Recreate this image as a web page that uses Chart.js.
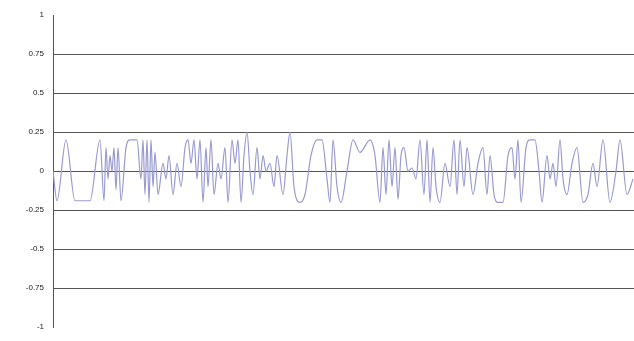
<!DOCTYPE html>
<html>
<head>
<meta charset="utf-8">
<script src="https://cdn.jsdelivr.net/npm/chart.js@4"></script>
<style>
  html, body { margin: 0; padding: 0; background: #fff; }
  #wrap { width: 634px; height: 341px; }
</style>
</head>
<body>
<div id="wrap"><canvas id="myChart"></canvas></div>
<script>
// sample position (time) and signal amplitude
const sampleT = [0, 4, 13, 22, 37, 47, 51, 53, 55, 57, 59, 61, 63, 65, 68, 73, 77, 84, 88, 90,
  92, 94, 96, 98, 100, 102, 105, 110, 113, 116, 120, 124, 128, 132, 135, 138, 141, 144, 147, 150,
  153, 155, 158, 161, 165, 168, 172, 175, 179, 182, 185, 188, 191, 194, 197, 200, 204, 207, 210, 213,
  217, 221, 224, 230, 234, 237, 241, 247, 252, 258, 264, 269, 274, 277, 280, 284, 288, 294, 300, 307,
  317, 322, 327, 330, 333, 336, 339, 342, 345, 348, 351, 355, 359, 363, 367, 371, 374, 377, 380, 383,
  387, 392, 397, 401, 404, 407, 411, 414, 420, 425, 430, 434, 437, 441, 445, 450, 455, 459, 462, 465,
  468, 473, 477, 482, 486, 489, 494, 497, 500, 503, 507, 510, 514, 519, 524, 530, 535, 540, 544, 550,
  557, 563, 567, 574, 580];
const amplitude = [0.0, -0.19, 0.2, -0.19, -0.19, 0.2, -0.19, 0.15, -0.05, 0.1, 0.0, 0.15, -0.12, 0.15, -0.19, 0.15, 0.2, 0.2, -0.05, 0.2,
  -0.15, 0.2, -0.2, 0.2, -0.1, 0.12, -0.15, 0.05, -0.05, 0.1, -0.15, 0.05, -0.1, 0.15, 0.2, 0.05, 0.2, -0.05, 0.2, -0.2,
  0.15, -0.1, 0.2, -0.15, 0.05, -0.05, 0.15, -0.2, 0.2, 0.05, 0.2, -0.2, 0.1, 0.25, 0.0, -0.15, 0.15, -0.05, 0.1, 0.0,
  0.05, -0.1, 0.1, -0.15, 0.1, 0.25, -0.1, -0.2, -0.15, 0.1, 0.2, 0.2, -0.05, -0.2, 0.2, -0.1, -0.2, 0.0, 0.2, 0.12,
  0.2, 0.1, -0.2, 0.15, -0.15, 0.2, -0.1, 0.15, -0.18, 0.1, 0.15, 0.0, 0.02, -0.05, 0.2, -0.15, 0.2, -0.2, 0.15, -0.1,
  -0.2, 0.05, -0.1, 0.2, -0.15, 0.2, -0.1, 0.15, -0.15, 0.05, 0.15, -0.15, 0.1, -0.15, -0.2, -0.2, 0.1, 0.15, -0.05, 0.2,
  -0.2, 0.15, 0.2, 0.2, 0.0, -0.2, 0.1, -0.05, 0.05, -0.1, 0.2, -0.05, -0.15, 0.05, 0.15, -0.2, -0.15, 0.05, -0.1, 0.2,
  -0.2, 0.0, 0.2, -0.15, -0.05];
const yTicks = ['1', '0.75', '0.5', '0.25', '0', '-0.25', '-0.5', '-0.75', '-1'];

let points = [];
for (let i = 0; i < sampleT.length; i++) {
    points.push({ x: sampleT[i], y: amplitude[i] });
}

const config = {
    type: 'line',
    data: {
        datasets: [{
            data: points,
            borderColor: '#9a9ad2',
            borderWidth: 1.2,
            pointRadius: 0,
            cubicInterpolationMode: 'monotone',
            fill: false
        }]
    },
    options: {
        responsive: true,
        maintainAspectRatio: false,
        animation: false,
        layout: { padding: { top: 15, bottom: 9, left: 0, right: 0 } },
        plugins: { legend: { display: false }, tooltip: { enabled: false } },
        scales: {
            x: {
                type: 'linear',
                min: 0,
                max: 581,
                display: false
            },
            y: {
                min: -1,
                max: 1,
                afterFit: function (scale) { scale.width = 53; },
                border: { display: true, color: '#555', width: 1 },
                grid: {
                    drawTicks: false,
                    lineWidth: 1,
                    color: function (ctx) {
                        let v = ctx.tick ? ctx.tick.value : 0;
                        if (v === 1 || v === -1) return 'rgba(0,0,0,0)';
                        return '#555';
                    }
                },
                ticks: {
                    stepSize: 0.25,
                    padding: 9,
                    color: '#222',
                    font: { family: 'Liberation Sans', size: 8 },
                    callback: function (value) {
                        let idx = Math.round((1 - value) / 0.25);
                        return yTicks[idx];
                    }
                }
            }
        }
    }
};

var myChart = new Chart(document.getElementById('myChart'), config);
</script>
</body>
</html>
